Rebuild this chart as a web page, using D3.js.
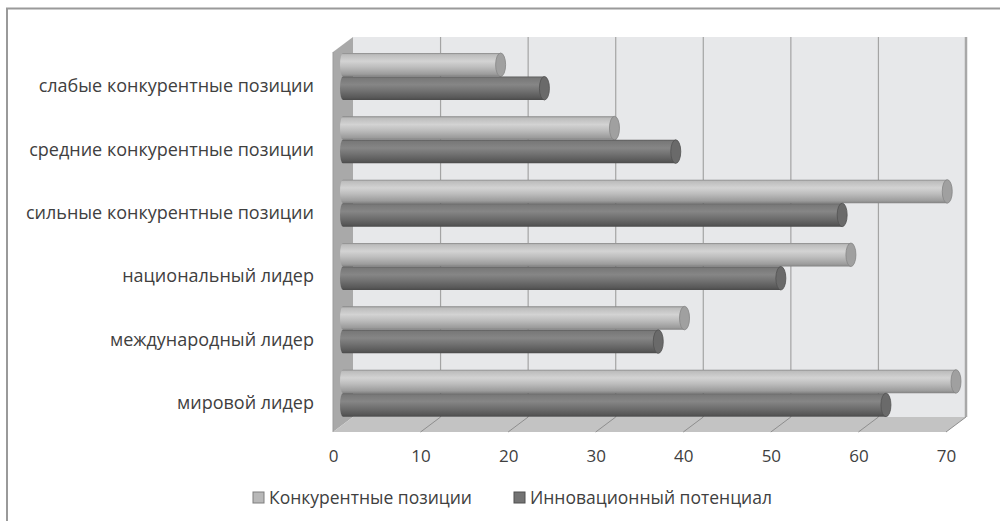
<!DOCTYPE html>
<html>
<head>
  <meta charset="utf-8">
  <title>Конкурентные позиции и инновационный потенциал</title>
  <script src="https://d3js.org/d3.v7.min.js"></script>
  <style>
    body { margin: 0; background: #fff; }
    text { font-family: "Open Sans", "Noto Sans", sans-serif; fill: #404040; }
  </style>
</head>
<body>
  <svg id="grafico"></svg>

  <script>
    // categorias de arriba hacia abajo
    const categorias = [
      "слабые конкурентные позиции",
      "средние конкурентные позиции",
      "сильные конкурентные позиции",
      "национальный лидер",
      "международный лидер",
      "мировой лидер"
    ];
    const konkurentnye = [18, 31, 69, 58, 39, 70];
    const innovatsionnye = [23, 38, 57, 50, 36, 62];
    const marcas = [0, 10, 20, 30, 40, 50, 60, 70];
    const series = ["Конкурентные позиции", "Инновационный потенциал"];

    const W = 1000, H = 521;
    const svg = d3.select("#grafico").attr("width", W).attr("height", H);

    // marco exterior (solo se ven arriba e izquierda)
    svg.append("rect")
      .attr("x", 7).attr("y", 8.5)
      .attr("width", 1010).attr("height", 530)
      .style("fill", "none").style("stroke", "#9a9a9a").style("stroke-width", 2);

    // profundidad 3D
    const dx = 20, dy = -15;
    const yTop = 52, yBot = 432;

    const xFront = d3.scaleLinear().domain([0, 70]).range([333, 946]);
    const xBack = v => xFront(v) + dx;
    const xMid = v => xFront(v) + dx / 2;

    const y = d3.scaleBand().domain(categorias).range([yTop, yBot]);
    const ySub = d3.scaleBand().domain(series).range([1, 48]);

    const defs = svg.append("defs");
    function grad(id, stops) {
      const g = defs.append("linearGradient").attr("id", id)
        .attr("x1", 0).attr("y1", 0).attr("x2", 0).attr("y2", 1);
      stops.forEach(s => g.append("stop").attr("offset", s[0]).attr("stop-color", s[1]));
    }
    grad("gClaro", [[0, "#858585"], [0.07, "#bcbcbc"], [0.35, "#d3d3d3"], [0.6, "#bdbdbd"], [0.9, "#9c9c9c"], [1, "#828282"]]);
    grad("gOscuro", [[0, "#5a5a5a"], [0.07, "#787878"], [0.35, "#868686"], [0.6, "#727272"], [0.9, "#585858"], [1, "#4a4a4a"]]);

    // pared del fondo
    svg.append("rect")
      .attr("x", xBack(0)).attr("y", yTop + dy)
      .attr("width", xBack(70) - xBack(0)).attr("height", yBot - yTop)
      .style("fill", "#e7e8ea");

    // pared lateral
    svg.append("polygon")
      .attr("points", [[xFront(0), yTop], [xBack(0), yTop + dy], [xBack(0), yBot + dy], [xFront(0), yBot]].join(" "))
      .style("fill", "#a9a9a9");

    // suelo
    svg.append("polygon")
      .attr("points", [[xFront(0), yBot], [xBack(0), yBot + dy], [xBack(70), yBot + dy], [xFront(70), yBot]].join(" "))
      .style("fill", "#c3c3c3");

    // rejilla del fondo
    svg.selectAll(".rejilla")
      .data(marcas.slice(1))
      .enter()
      .append("line")
      .attr("class", "rejilla")
      .attr("x1", d => xBack(d)).attr("x2", d => xBack(d))
      .attr("y1", yTop + dy).attr("y2", yBot + dy)
      .style("stroke", d => d === 70 ? "#a8a8a8" : "#a4a4a4")
      .style("stroke-width", d => d === 70 ? 2.5 : 1.2);

    // rejilla del suelo
    svg.selectAll(".rejillaSuelo")
      .data(marcas.slice(1))
      .enter()
      .append("line")
      .attr("class", "rejillaSuelo")
      .attr("x1", d => xFront(d)).attr("y1", yBot)
      .attr("x2", d => xBack(d)).attr("y2", yBot + dy)
      .style("stroke", "#8e8e8e")
      .style("stroke-width", 1);

    // borde de la pared lateral
    svg.append("line")
      .attr("x1", xFront(0)).attr("y1", yTop).attr("x2", xFront(0)).attr("y2", yBot)
      .style("stroke", "#9c9c9c").style("stroke-width", 1);

    // cilindros
    const datos = [];
    categorias.forEach((c, i) => {
      datos.push({ cat: c, serie: series[0], valor: konkurentnye[i] });
      datos.push({ cat: c, serie: series[1], valor: innovatsionnye[i] });
    });

    const rx = 5;
    const cil = svg.selectAll(".cilindro")
      .data(datos)
      .enter()
      .append("g")
      .attr("class", "cilindro")
      .attr("transform", d => `translate(0,${y(d.cat) + ySub(d.serie)})`);

    const h = ySub.bandwidth();
    cil.append("path")
      .attr("d", d => {
        const x0 = 340, x1 = xMid(d.valor);
        return `M${x0 + 3},0 L${x1},0 L${x1},${h} L${x0 + 3},${h} A3,${h / 2} 0 0 1 ${x0 + 3},0 Z`;
      })
      .style("fill", d => d.serie === series[0] ? "url(#gClaro)" : "url(#gOscuro)");

    cil.append("ellipse")
      .attr("cx", d => xMid(d.valor))
      .attr("cy", h / 2)
      .attr("rx", rx)
      .attr("ry", h / 2)
      .style("fill", d => d.serie === series[0] ? "#a0a0a0" : "#6a6a6a")
      .style("stroke", d => d.serie === series[0] ? "#858585" : "#525252")
      .style("stroke-width", 0.8);

    // eje de categorias
    const ejeY = svg.append("g")
      .attr("transform", "translate(314,3)")
      .call(d3.axisLeft(y).tickSize(0).tickPadding(0));
    ejeY.select(".domain").remove();
    ejeY.selectAll("text")
      .style("font-size", "18px")
      .style("font-family", "'Open Sans', sans-serif")
      .attr("fill", "#404040");

    // eje de valores
    const ejeX = svg.append("g")
      .attr("transform", `translate(0,${yBot})`)
      .call(d3.axisBottom(xFront).tickValues(marcas).tickSize(0).tickPadding(18));
    ejeX.select(".domain").remove();
    ejeX.selectAll("text")
      .style("font-size", "17px")
      .style("font-family", "'Open Sans', sans-serif")
      .attr("fill", "#404040");

    // leyenda
    const leyenda = svg.selectAll(".leyenda")
      .data(series)
      .enter()
      .append("g")
      .attr("class", "leyenda")
      .attr("transform", (d, i) => `translate(${i === 0 ? 253 : 514},492)`);
    leyenda.append("rect")
      .attr("width", 11).attr("height", 11)
      .style("fill", (d, i) => i === 0 ? "#b8b8b8" : "#737373")
      .style("stroke", (d, i) => i === 0 ? "#7e7e7e" : "#505050")
      .style("stroke-width", 1);
    leyenda.append("text")
      .attr("x", 16).attr("y", 11.5)
      .style("font-size", "17.5px")
      .text(d => d);
  </script>
</body>
</html>
